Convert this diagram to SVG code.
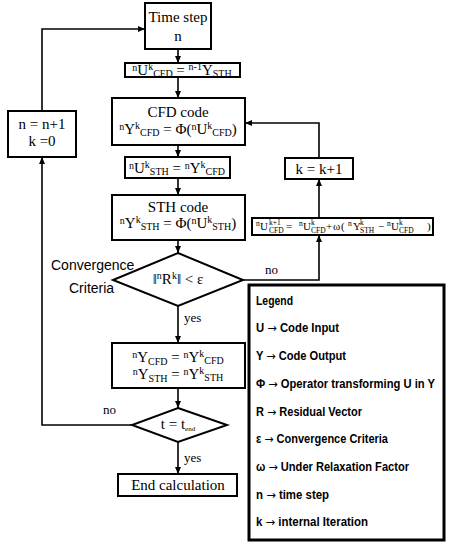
<svg xmlns="http://www.w3.org/2000/svg" width="455" height="550" viewBox="0 0 455 550">
<defs>
<marker id="ah" markerWidth="8" markerHeight="8" refX="7" refY="4" orient="auto" markerUnits="userSpaceOnUse">
<path d="M0,1 L7,4 L0,7 Z" fill="#000"/>
</marker>
<style>
.box{fill:#fff;stroke:#000;stroke-width:2}
.con{fill:none;stroke:#000;stroke-width:1.6}
.f{font-family:"Liberation Serif","Times New Roman",serif;font-size:15px;fill:#000}
.s{font-size:10px}
.m{font-family:"Liberation Serif","Times New Roman",serif;font-size:11px;fill:#000}
.ms{font-family:"Liberation Serif","Times New Roman",serif;font-size:7.5px;fill:#000}
.lbl{font-family:"Liberation Sans",Arial,sans-serif;font-size:14px;fill:#000}
.yn{font-family:"Liberation Serif","Times New Roman",serif;font-size:13px;fill:#000}
.lg{font-family:"Liberation Sans",Arial,sans-serif;font-size:12px;font-weight:bold;fill:#000}
.ar{font-family:"DejaVu Sans",sans-serif;font-weight:normal}
</style>
</defs>
<rect width="455" height="550" fill="#fff"/>

<g id="connectors">
<path class="con" d="M132,425 H42 V157" marker-end="url(#ah)"/>
<path class="con" d="M42,111 V29 H145" marker-end="url(#ah)"/>
<path class="con" d="M178,49 V63" marker-end="url(#ah)"/>
<path class="con" d="M178,77 V98" marker-end="url(#ah)"/>
<path class="con" d="M178,145 V157" marker-end="url(#ah)"/>
<path class="con" d="M178,178 V195" marker-end="url(#ah)"/>
<path class="con" d="M178,240 V253" marker-end="url(#ah)"/>
<path class="con" d="M243,280 H319 V235" marker-end="url(#ah)"/>
<path class="con" d="M319,218 V179" marker-end="url(#ah)"/>
<path class="con" d="M319,158 V123 H245" marker-end="url(#ah)"/>
<path class="con" d="M178,306 V343" marker-end="url(#ah)"/>
<path class="con" d="M178,388 V408" marker-end="url(#ah)"/>
<path class="con" d="M178,442 V474" marker-end="url(#ah)"/>
<text class="yn" x="265" y="274">no</text>
<text class="yn" x="184" y="322">yes</text>
<text class="yn" x="103" y="414">no</text>
<text class="yn" x="184" y="462">yes</text>
</g>

<g id="timestep">
<rect class="box" x="145" y="3" width="66" height="46"/>
<text class="f" x="178" y="22" text-anchor="middle">Time step</text>
<text class="f" x="178" y="41" text-anchor="middle">n</text>
</g>

<g id="init">
<rect class="box" x="125" y="63" width="115" height="14"/>
<text class="f" x="182" y="75" text-anchor="middle"><tspan class="s" dy="-4">n</tspan><tspan dy="4">U</tspan><tspan class="s" dy="-5">k</tspan><tspan class="s" dy="7">CFD</tspan><tspan dy="-2"> = </tspan><tspan class="s" dy="-5">n-1</tspan><tspan dy="5">Y</tspan><tspan class="s" dy="2">STH</tspan></text>
</g>

<g id="cfd">
<rect class="box" x="112" y="98" width="133" height="47"/>
<text class="f" x="178" y="117" text-anchor="middle">CFD code</text>
<text class="f" x="178" y="134" text-anchor="middle"><tspan class="s" dy="-4">n</tspan><tspan dy="4">Y</tspan><tspan class="s" dy="-5">k</tspan><tspan class="s" dy="7">CFD</tspan><tspan dy="-2"> = Φ(</tspan><tspan class="s" dy="-4">n</tspan><tspan dy="4">U</tspan><tspan class="s" dy="-5">k</tspan><tspan class="s" dy="7">CFD</tspan><tspan dy="-2">)</tspan></text>
</g>

<g id="transfer">
<rect class="box" x="125" y="157" width="105" height="21"/>
<text class="f" x="177" y="173" text-anchor="middle"><tspan class="s" dy="-4">n</tspan><tspan dy="4">U</tspan><tspan class="s" dy="-5">k</tspan><tspan class="s" dy="7">STH</tspan><tspan dy="-2"> = </tspan><tspan class="s" dy="-4">n</tspan><tspan dy="4">Y</tspan><tspan class="s" dy="-5">k</tspan><tspan class="s" dy="7">CFD</tspan></text>
</g>

<g id="sth">
<rect class="box" x="112" y="195" width="133" height="45"/>
<text class="f" x="178" y="212" text-anchor="middle">STH code</text>
<text class="f" x="178" y="228" text-anchor="middle"><tspan class="s" dy="-4">n</tspan><tspan dy="4">Y</tspan><tspan class="s" dy="-5">k</tspan><tspan class="s" dy="7">STH</tspan><tspan dy="-2"> = Φ(</tspan><tspan class="s" dy="-4">n</tspan><tspan dy="4">U</tspan><tspan class="s" dy="-5">k</tspan><tspan class="s" dy="7">STH</tspan><tspan dy="-2">)</tspan></text>
</g>

<g id="convergence">
<polygon class="box" points="178,253 243,280 178,306 113,280"/>
<text class="f" x="178" y="284" text-anchor="middle">‖<tspan class="s" dy="-5">n</tspan><tspan dy="5">R</tspan><tspan class="s" dy="-5">k</tspan><tspan dy="5">‖ &lt; ε</tspan></text>
<text class="lbl" x="51" y="270">Convergence</text>
<text class="lbl" x="69" y="293">Criteria</text>
</g>

<g id="relaxation">
<rect class="box" x="252" y="218" width="181" height="17"/>
<text class="ms" x="256" y="226">n</text>
<text class="m" x="260" y="230">U</text>
<text class="ms" x="269" y="225">k+1</text>
<text class="ms" x="269" y="233">CFD</text>
<text class="m" x="286" y="230">=</text>
<text class="ms" x="299" y="226">n</text>
<text class="m" x="303" y="230">U</text>
<text class="ms" x="311" y="225">k</text>
<text class="ms" x="311" y="233">CFD</text>
<text class="m" x="326" y="230">+</text>
<text class="m" x="333" y="230">ω</text>
<text class="m" x="341" y="230">(</text>
<text class="ms" x="348" y="226">n</text>
<text class="m" x="353" y="230">Y</text>
<text class="ms" x="360" y="225">k</text>
<text class="ms" x="360" y="233">STH</text>
<text class="m" x="378" y="230">−</text>
<text class="ms" x="387" y="226">n</text>
<text class="m" x="391" y="230">U</text>
<text class="ms" x="399" y="225">k</text>
<text class="ms" x="399" y="233">CFD</text>
<text class="m" x="427" y="230">)</text>
</g>

<g id="kinc">
<rect class="box" x="285" y="158" width="68" height="21"/>
<text class="f" x="319" y="174" text-anchor="middle">k = k+1</text>
</g>

<g id="update">
<rect class="box" x="112" y="343" width="133" height="45"/>
<text class="f" x="178" y="362" text-anchor="middle"><tspan class="s" dy="-4">n</tspan><tspan dy="4">Y</tspan><tspan class="s" dy="3">CFD</tspan><tspan dy="-3"> = </tspan><tspan class="s" dy="-4">n</tspan><tspan dy="4">Y</tspan><tspan class="s" dy="-5">k</tspan><tspan class="s" dy="7">CFD</tspan></text>
<text class="f" x="178" y="379" text-anchor="middle"><tspan class="s" dy="-4">n</tspan><tspan dy="4">Y</tspan><tspan class="s" dy="3">STH</tspan><tspan dy="-3"> = </tspan><tspan class="s" dy="-4">n</tspan><tspan dy="4">Y</tspan><tspan class="s" dy="-5">k</tspan><tspan class="s" dy="7">STH</tspan></text>
</g>

<g id="tend">
<polygon class="box" points="178,408 227,425 178,442 132,425"/>
<text class="f" x="178" y="429" text-anchor="middle" font-size="12">t = t<tspan font-size="7" dy="2">end</tspan></text>
</g>

<g id="end">
<rect class="box" x="118" y="474" width="119" height="22"/>
<text class="f" x="178" y="490" text-anchor="middle">End calculation</text>
</g>

<g id="nstep">
<rect class="box" x="8" y="111" width="68" height="46"/>
<text class="f" x="42" y="129" text-anchor="middle">n = n+1</text>
<text class="f" x="42" y="146" text-anchor="middle">k =0</text>
</g>

<g id="legend">
<rect x="249" y="285" width="195" height="255" fill="#fff" stroke="#000" stroke-width="3"/>
<text class="lg" x="256" y="305" textLength="37" lengthAdjust="spacingAndGlyphs">Legend</text>
<text class="lg" x="256" y="332" textLength="83" lengthAdjust="spacingAndGlyphs">U <tspan class="ar">→</tspan> Code Input</text>
<text class="lg" x="256" y="360" textLength="90" lengthAdjust="spacingAndGlyphs">Y <tspan class="ar">→</tspan> Code Output</text>
<text class="lg" x="256" y="388" textLength="179" lengthAdjust="spacingAndGlyphs">Φ <tspan class="ar">→</tspan> Operator transforming U in Y</text>
<text class="lg" x="256" y="416" textLength="106" lengthAdjust="spacingAndGlyphs">R <tspan class="ar">→</tspan> Residual Vector</text>
<text class="lg" x="256" y="443" textLength="132" lengthAdjust="spacingAndGlyphs">ε <tspan class="ar">→</tspan> Convergence Criteria</text>
<text class="lg" x="256" y="471" textLength="153" lengthAdjust="spacingAndGlyphs">ω <tspan class="ar">→</tspan> Under Relaxation Factor</text>
<text class="lg" x="256" y="499" textLength="73" lengthAdjust="spacingAndGlyphs">n <tspan class="ar">→</tspan> time step</text>
<text class="lg" x="256" y="526" textLength="112" lengthAdjust="spacingAndGlyphs">k <tspan class="ar">→</tspan> internal Iteration</text>
</g>
</svg>
